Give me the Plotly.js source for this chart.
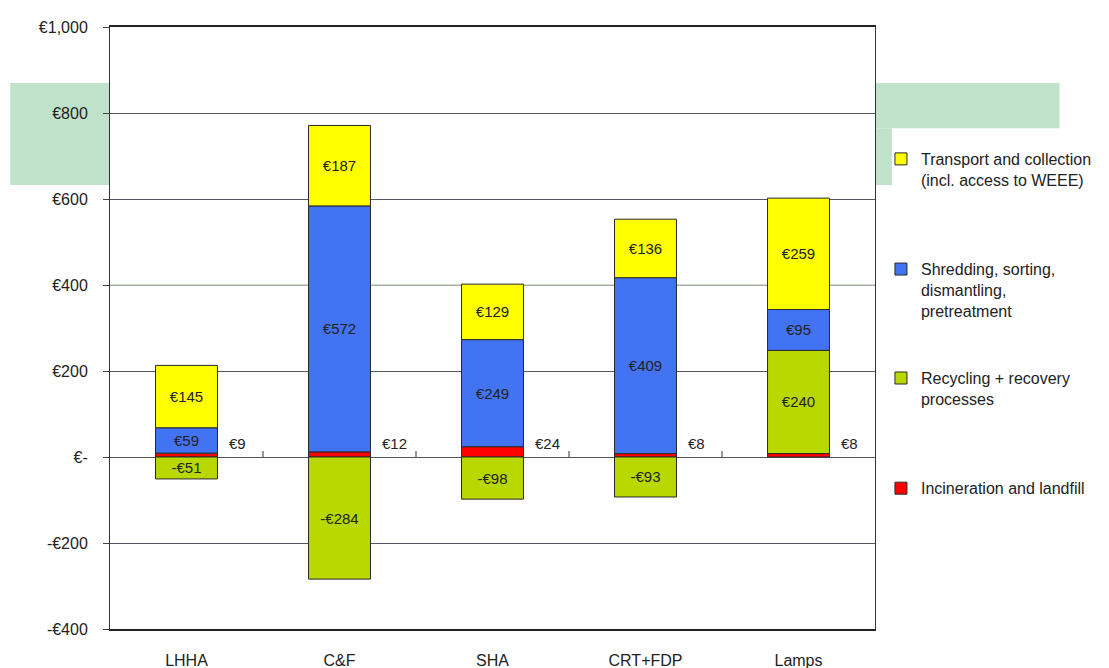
<!DOCTYPE html>
<html>
<head>
<meta charset="utf-8">
<script src="https://cdn.plot.ly/plotly-3.0.1.min.js"></script>
<style>
  html, body { margin: 0; padding: 0; background: #ffffff; }
  #chart { width: 1109px; height: 668px; }
</style>
</head>
<body>
<div id="chart"></div>
<script>
// Cost per tonne by treatment stage, per WEEE category
const categories = ['LHHA', 'C&F', 'SHA', 'CRT+FDP', 'Lamps'];
const incineration = [9, 12, 24, 8, 8];
const recycling = [-51, -284, -98, -93, 240];
const shredding = [59, 572, 249, 409, 95];
const transport = [145, 187, 129, 136, 259];

const nameTransport = 'Transport and collection<br>(incl. access to WEEE)';
const nameShredding = 'Shredding, sorting,<br>dismantling,<br>pretreatment';
const nameRecycling = 'Recycling + recovery<br>processes';
const nameIncineration = 'Incineration and landfill';

const yTickValues = [1000, 800, 600, 400, 200, 0, -200, -400];
const yTickLabels = ['€1,000', '€800', '€600', '€400', '€200', '€-', '-€200', '-€400'];
const paleGridValue = 400;

const FONT = 'Liberation Sans, Arial, sans-serif';
const eur = v => (v < 0 ? '-€' : '€') + Math.abs(v);

const outline = { color: '#2a2a2a', width: 1 };
const inLabel = { family: FONT, size: 15, color: '#222222' };

function barTrace(values, name, color, legendId, withText) {
  return {
    type: 'bar',
    x: categories,
    y: values,
    name: name,
    legend: legendId,
    marker: { color: color, line: outline },
    text: withText ? values.map(eur) : undefined,
    textposition: withText ? 'inside' : 'none',
    insidetextanchor: 'middle',
    constraintext: 'none',
    textfont: inLabel,
    hoverinfo: 'x+y+name'
  };
}

const traces = [
  barTrace(incineration, nameIncineration, '#ff0000', 'legend4', false),
  barTrace(recycling, nameRecycling, '#b8d800', 'legend3', true),
  barTrace(shredding, nameShredding, '#4273f2', 'legend2', true),
  barTrace(transport, nameTransport, '#ffff00', 'legend', true)
];

// Values of the smallest stage sit beside each column, just above zero
const sideLabels = incineration.map((v, i) => ({
  x: categories[i], y: 0, xref: 'x', yref: 'y',
  text: eur(v), showarrow: false,
  xanchor: 'left', yanchor: 'middle',
  xshift: 40, yshift: 14,
  font: { family: FONT, size: 15, color: '#222222' }
}));

// Small category-divider ticks standing on the zero line
const dividerTicks = categories.slice(1).map((c, i) => ({
  type: 'line', xref: 'x', yref: 'y',
  x0: i + 0.5, x1: i + 0.5,
  ysizemode: 'pixel', yanchor: 0, y0: 0, y1: 6,
  line: { color: '#333333', width: 1 }
}));

// One gridline drawn in a paler tone, above the grid but under the bars
const paleGrid = {
  type: 'line', xref: 'x', yref: 'y', layer: 'between',
  x0: -0.5, x1: categories.length - 0.5, y0: paleGridValue, y1: paleGridValue,
  line: { color: '#c4cbbf', width: 1.5 }
};

// Pale banner band behind the chart
const band = 'rgb(192,226,202)';
const bandShapes = [
  { type: 'rect', xref: 'paper', yref: 'paper', x0: -0.1304, x1: 0, y0: 0.7375, y1: 0.907,
    fillcolor: band, line: { width: 0 }, layer: 'below' },
  { type: 'rect', xref: 'paper', yref: 'paper', x0: 1.0, x1: 1.2412, y0: 0.832, y1: 0.907,
    fillcolor: band, line: { width: 0 }, layer: 'below' },
  { type: 'rect', xref: 'paper', yref: 'paper', x0: 1.0, x1: 1.022, y0: 0.7375, y1: 0.832,
    fillcolor: band, line: { width: 0 }, layer: 'below' }
];

function legendBox(yTop) {
  return {
    x: 1.0078, xanchor: 'left', y: yTop, yanchor: 'top',
    bgcolor: 'rgba(0,0,0,0)', borderwidth: 0,
    valign: 'top', itemclick: false, itemdoubleclick: false,
    font: { family: FONT, size: 16, color: '#222222' }
  };
}

const layout = {
  width: 1109, height: 668,
  margin: { l: 110, r: 232, t: 27, b: 39 },
  paper_bgcolor: 'rgba(0,0,0,0)',
  plot_bgcolor: '#ffffff',
  barmode: 'relative',
  bargap: 0.595,
  font: { family: FONT, size: 15, color: '#222222' },
  xaxis: {
    type: 'category',
    range: [-0.5, 4.5],
    showgrid: false,
    ticks: '',
    ticklabelstandoff: 16,
    tickfont: { family: FONT, size: 16, color: '#222222' },
    showline: true, linecolor: '#222222', linewidth: 1.5, mirror: true,
    zeroline: false, fixedrange: true
  },
  yaxis: {
    range: [-400, 1000],
    tickvals: yTickValues,
    ticktext: yTickLabels,
    ticks: 'outside', ticklen: 6, tickcolor: '#444444',
    ticklabelstandoff: 12,
    tickfont: { family: FONT, size: 16, color: '#222222' },
    showgrid: true, gridcolor: '#555566', gridwidth: 1,
    zeroline: true, zerolinecolor: '#555566', zerolinewidth: 1,
    showline: true, linecolor: '#333333', linewidth: 1, mirror: true,
    fixedrange: true
  },
  showlegend: true,
  legend: legendBox(0.809),
  legend2: legendBox(0.626),
  legend3: legendBox(0.445),
  legend4: legendBox(0.262),
  annotations: sideLabels,
  shapes: bandShapes.concat([paleGrid], dividerTicks)
};

Plotly.newPlot('chart', traces, layout, { displayModeBar: false, staticPlot: false });
</script>
</body>
</html>
